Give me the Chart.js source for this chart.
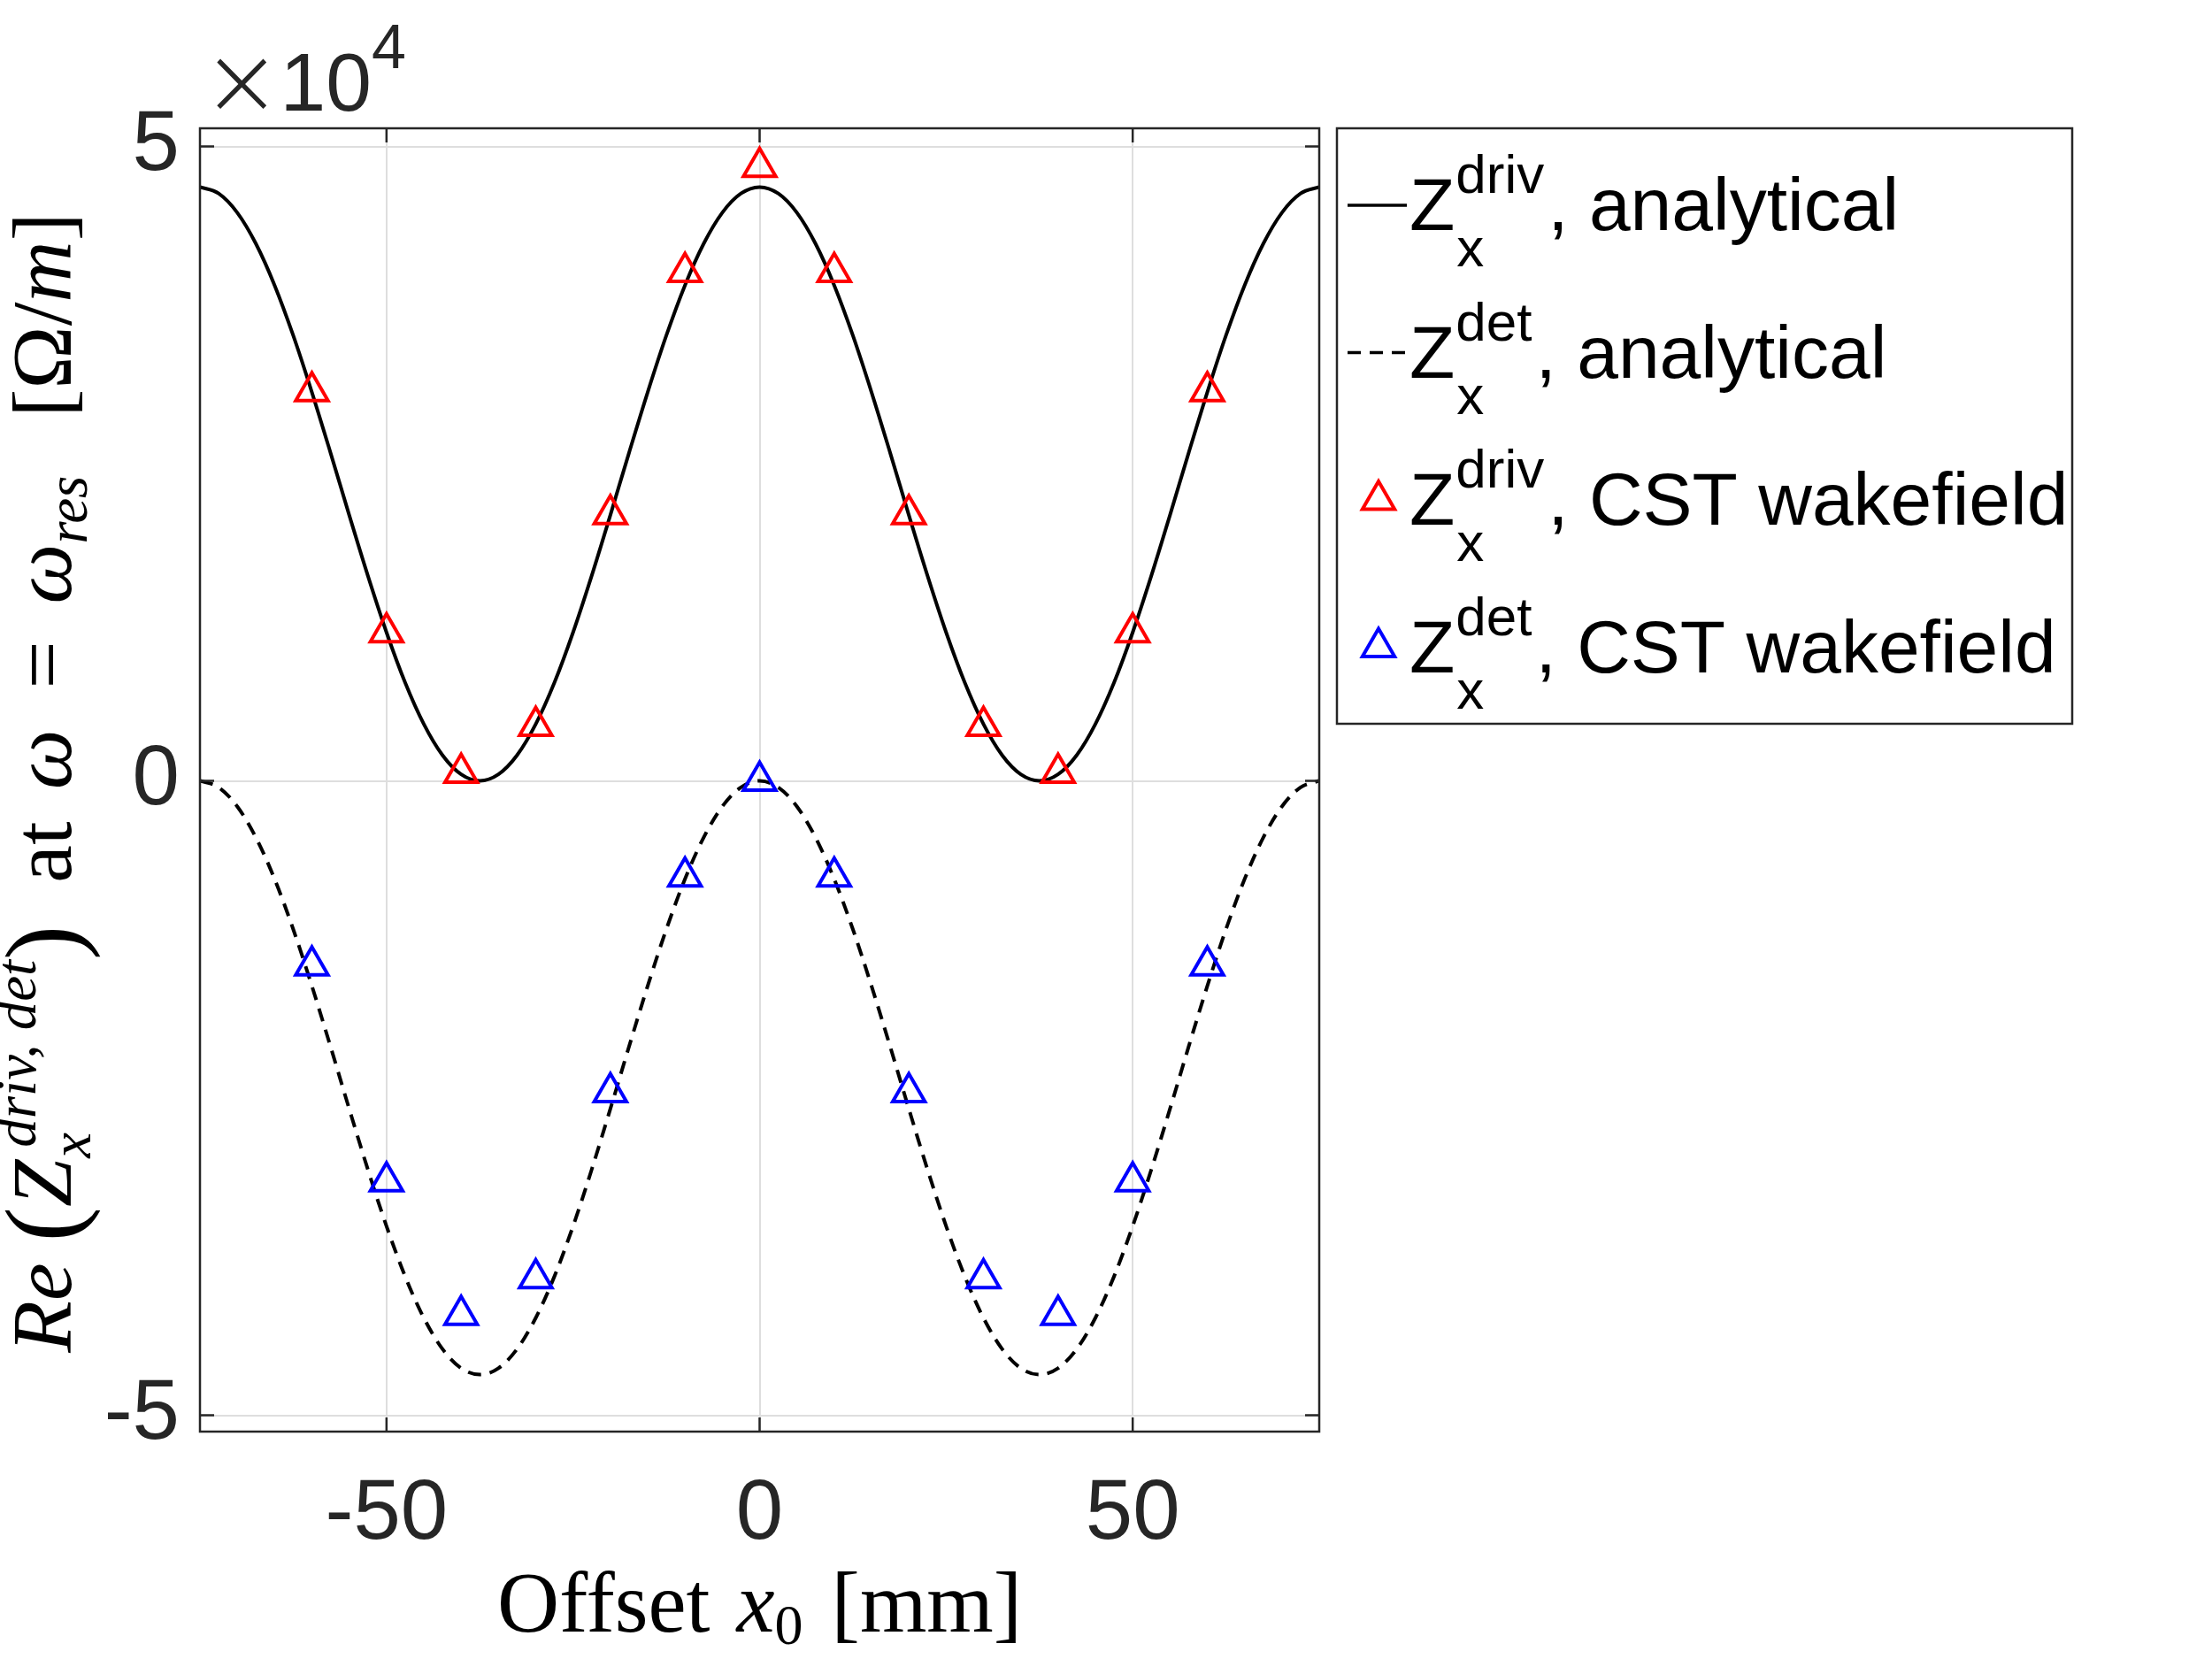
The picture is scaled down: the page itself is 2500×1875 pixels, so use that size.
<!DOCTYPE html>
<html>
<head>
<meta charset="utf-8">
<script src="https://cdn.jsdelivr.net/npm/chart.js@4.4.1/dist/chart.umd.min.js"></script>
<style>
html,body{margin:0;padding:0;background:#ffffff;}
canvas{display:block;}
</style>
</head>
<body>
<canvas id="c" width="2500" height="1875" style="width:2500px;height:1875px"></canvas>
<script>
// ---------------- data ----------------
const curveX = [-75, -72.5, -70, -67.5, -65, -62.5, -60, -57.5, -55, -52.5, -50, -47.5, -45, -42.5, -40, -37.5,
  -35, -32.5, -30, -27.5, -25, -22.5, -20, -17.5, -15, -12.5, -10, -7.5, -5, -2.5, 0,
  2.5, 5, 7.5, 10, 12.5, 15, 17.5, 20, 22.5, 25, 27.5, 30, 32.5, 35, 37.5,
  40, 42.5, 45, 47.5, 50, 52.5, 55, 57.5, 60, 62.5, 65, 67.5, 70, 72.5, 75];

const zDrivAnalytical = [46800, 46290, 44780, 42330, 39060, 35100, 30630, 25850, 20950, 16170, 11700, 7740, 4470, 2020, 510, 0,
  510, 2020, 4470, 7740, 11700, 16170, 20950, 25850, 30630, 35100, 39060, 42330, 44780, 46290, 46800,
  46290, 44780, 42330, 39060, 35100, 30630, 25850, 20950, 16170, 11700, 7740, 4470, 2020, 510, 0,
  510, 2020, 4470, 7740, 11700, 16170, 20950, 25850, 30630, 35100, 39060, 42330, 44780, 46290, 46800];

const zDetAnalytical = [0, -510, -2020, -4470, -7740, -11700, -16170, -20950, -25850, -30630, -35100, -39060, -42330, -44780, -46290, -46800,
  -46290, -44780, -42330, -39060, -35100, -30630, -25850, -20950, -16170, -11700, -7740, -4470, -2020, -510, 0,
  -510, -2020, -4470, -7740, -11700, -16170, -20950, -25850, -30630, -35100, -39060, -42330, -44780, -46290, -46800,
  -46290, -44780, -42330, -39060, -35100, -30630, -25850, -20950, -16170, -11700, -7740, -4470, -2020, -510, 0];

const cstX = [-60, -50, -40, -30, -20, -10, 0, 10, 20, 30, 40, 50, 60];
const zDrivCST = [30700, 11700, 620, 4330, 21000, 40100, 48380, 40100, 21000, 4330, 620, 11700, 30700];
const zDetCST = [-14550, -31570, -42100, -39200, -24550, -7550, 0, -7550, -24550, -39200, -42100, -31570, -14550];

const xTicks = [-50, 0, 50];
const yTicks = [-50000, 0, 50000];
const yExponent = 4;
const xLimits = [-75, 75];
const yLimits = [-51290, 51430];

// ---------------- styling ----------------
const SANS = '"Liberation Sans", Arial, Helvetica, sans-serif';
const SERIF = '"Liberation Serif", "Times New Roman", serif';
const AXIS = '#262626';
const GRID = '#dedede';

function pts(xs, ys) { return xs.map((x, i) => ({x: x, y: ys[i]})); }

// rich text helper: segments drawn left to right on a baseline
function rich(ctx, segs, x, y, draw) {
  let cx = x;
  for (const s of segs) {
    if (s.gap !== undefined) { cx += s.gap; continue; }
    ctx.font = s.f;
    if (s.sup !== undefined) {
      const w1 = ctx.measureText(s.sup).width + (s.supDx || 0);
      const w2 = ctx.measureText(s.sub).width + (s.subDx || 0);
      if (draw) {
        ctx.fillText(s.sup, cx + (s.supDx || 0), y + s.supDy);
        ctx.fillText(s.sub, cx + (s.subDx || 0), y + s.subDy);
      }
      cx += Math.max(w1, w2);
      continue;
    }
    if (draw) ctx.fillText(s.t, cx, y + (s.dy || 0));
    cx += ctx.measureText(s.t).width;
  }
  return cx - x;
}

const legendItems = [
  {kind: 'line', dash: [], color: '#000000', sup: 'driv', rest: ', analytical'},
  {kind: 'line', dash: [15, 10], color: '#000000', sup: 'det', rest: ', analytical'},
  {kind: 'marker', color: '#ff0000', sup: 'driv', rest: ', CST wakefield'},
  {kind: 'marker', color: '#0000ff', sup: 'det', rest: ', CST wakefield'}
];

const decor = {
  id: 'decor',
  beforeDraw(chart) {
    const ctx = chart.ctx;
    ctx.save();
    ctx.fillStyle = '#ffffff';
    ctx.fillRect(0, 0, chart.width, chart.height);
    ctx.restore();
  },
  afterDraw(chart) {
    const ctx = chart.ctx;
    const a = chart.chartArea;
    const xs = chart.scales.x, ys = chart.scales.y;
    ctx.save();
    // axes box
    ctx.strokeStyle = AXIS;
    ctx.lineWidth = 2.5;
    ctx.setLineDash([]);
    ctx.strokeRect(a.left, a.top, a.right - a.left, a.bottom - a.top);
    // inward tick marks
    const tl = 16;
    ctx.beginPath();
    for (const v of xTicks) {
      const px = xs.getPixelForValue(v);
      ctx.moveTo(px, a.bottom); ctx.lineTo(px, a.bottom - tl);
      ctx.moveTo(px, a.top); ctx.lineTo(px, a.top + tl);
    }
    for (const v of yTicks) {
      const py = ys.getPixelForValue(v);
      ctx.moveTo(a.left, py); ctx.lineTo(a.left + tl, py);
      ctx.moveTo(a.right, py); ctx.lineTo(a.right - tl, py);
    }
    ctx.stroke();

    // exponent label  x10^4
    ctx.fillStyle = AXIS;
    ctx.textBaseline = 'alphabetic';
    ctx.textAlign = 'left';
    rich(ctx, [
      {t: '\u00d7', f: '200 108px "DejaVu Sans", ' + SANS, dy: 4},
      {gap: -2},
      {t: '10', f: '93px ' + SANS},
      {t: String(yExponent), f: '70px ' + SANS, dy: -48}
    ], a.left + 2, a.top - 20, true);

    // x-axis title
    ctx.fillStyle = '#000000';
    const U = '97px ' + SERIF, I = 'italic 97px ' + SERIF, Sr = '64px ' + SERIF;
    const xt = [
      {t: 'Offset', f: U}, {gap: 30}, {t: 'x', f: I}, {t: '0', f: Sr, dy: 14}, {gap: 32}, {t: '[mm]', f: U}
    ];
    const xw = rich(ctx, xt, 0, 0, false);
    rich(ctx, xt, (a.left + a.right) / 2 - xw / 2, 1844, true);

    // y-axis title (rotated)
    const YI = 'italic 96px ' + SERIF, YU = '96px ' + SERIF, YS = 'italic 65px ' + SERIF, YP = '118px ' + SERIF;
    const yt = [
      {t: 'Re', f: YI}, {gap: 24}, {t: '(', f: YP, dy: 8}, {t: 'Z', f: YI},
      {sup: 'driv, det', sub: 'x', f: YS, supDy: -40, subDy: 22, supDx: 14, subDx: 2},
      {t: ')', f: YP, dy: 8}, {gap: 48}, {t: 'at', f: YU}, {gap: 36}, {t: '\u03c9', f: YI},
      {gap: 46}, {t: '=', f: YU}, {gap: 42}, {t: '\u03c9', f: YI}, {t: 'res', f: YS, dy: 18},
      {gap: 66}, {t: '[', f: YU}, {t: '\u03a9/', f: YU}, {t: 'm', f: YI}, {t: ']', f: YU}
    ];
    const yw = rich(ctx, yt, 0, 0, false);
    ctx.save();
    ctx.translate(80, (a.top + a.bottom) / 2 + 3);
    ctx.rotate(-Math.PI / 2);
    rich(ctx, yt, -yw / 2, 0, true);
    ctx.restore();

    // legend
    const L = {left: 1511, top: 145, right: 2342, bottom: 818};
    ctx.fillStyle = '#ffffff';
    ctx.fillRect(L.left, L.top, L.right - L.left, L.bottom - L.top);
    ctx.strokeStyle = AXIS;
    ctx.lineWidth = 2.5;
    ctx.strokeRect(L.left, L.top, L.right - L.left, L.bottom - L.top);
    const LF = '84px ' + SANS, LS = '62px ' + SANS;
    legendItems.forEach((it, i) => {
      const base = 260 + i * 166.5;
      const my = base - 28;
      if (it.kind === 'line') {
        ctx.save();
        ctx.strokeStyle = it.color;
        ctx.lineWidth = 3.5;
        ctx.setLineDash(it.dash);
        ctx.beginPath();
        ctx.moveTo(1523, my); ctx.lineTo(1590, my);
        ctx.stroke();
        ctx.restore();
      } else {
        ctx.save();
        ctx.strokeStyle = it.color;
        ctx.fillStyle = 'rgba(0,0,0,0)';
        ctx.lineWidth = 4;
        Chart.helpers.drawPoint(ctx, {pointStyle: 'triangle', radius: 21, borderWidth: 4, rotation: 0}, 1558, my);
        ctx.restore();
      }
      ctx.fillStyle = '#000000';
      rich(ctx, [
        {t: 'Z', f: LF},
        {sup: it.sup, sub: 'x', f: LS, supDy: -42, subDy: 41, supDx: 1, subDx: 2},
        {gap: 4},
        {t: it.rest, f: LF}
      ], 1593, base, true);
    });
    ctx.restore();
  }
};

function build() {
  const ctx = document.getElementById('c').getContext('2d');
  new Chart(ctx, {
    type: 'line',
    data: {
      datasets: [
        {label: 'Z_x^driv, analytical', data: pts(curveX, zDrivAnalytical), borderColor: '#000000', borderWidth: 4,
         pointRadius: 0, cubicInterpolationMode: 'monotone', fill: false, order: 2},
        {label: 'Z_x^det, analytical', data: pts(curveX, zDetAnalytical), borderColor: '#000000', borderWidth: 4,
         borderDash: [15, 10], pointRadius: 0, cubicInterpolationMode: 'monotone', fill: false, order: 2},
        {label: 'Z_x^driv, CST wakefield', data: pts(cstX, zDrivCST), showLine: false, pointStyle: 'triangle',
         pointRadius: 21, pointBorderWidth: 4, pointBorderColor: '#ff0000', pointBackgroundColor: 'rgba(0,0,0,0)',
         borderColor: '#ff0000', order: 1},
        {label: 'Z_x^det, CST wakefield', data: pts(cstX, zDetCST), showLine: false, pointStyle: 'triangle',
         pointRadius: 21, pointBorderWidth: 4, pointBorderColor: '#0000ff', pointBackgroundColor: 'rgba(0,0,0,0)',
         borderColor: '#0000ff', order: 1}
      ]
    },
    options: {
      responsive: false,
      devicePixelRatio: 1,
      animation: false,
      events: [],
      layout: {padding: {left: 0, top: 145, right: 1009, bottom: 0}},
      plugins: {legend: {display: false}, tooltip: {enabled: false}, title: {display: false}},
      scales: {
        x: {
          type: 'linear', min: xLimits[0], max: xLimits[1],
          afterBuildTicks: (s) => { s.ticks = xTicks.map(v => ({value: v})); },
          afterFit: (s) => { s.height = 257; },
          grid: {color: GRID, lineWidth: 2, drawTicks: false},
          border: {display: false},
          ticks: {color: AXIS, font: {family: SANS, size: 96, lineHeight: 1}, padding: 47,
                  maxRotation: 0, minRotation: 0, autoSkip: false, callback: (v) => String(v)}
        },
        y: {
          type: 'linear', min: yLimits[0], max: yLimits[1],
          afterBuildTicks: (s) => { s.ticks = yTicks.map(v => ({value: v})); },
          afterFit: (s) => { s.width = 226; },
          grid: {color: GRID, lineWidth: 2, drawTicks: false},
          border: {display: false},
          ticks: {color: AXIS, font: {family: SANS, size: 96, lineHeight: 1}, padding: 23,
                  autoSkip: false, callback: (v) => String(v / Math.pow(10, yExponent))}
        }
      }
    },
    plugins: [decor]
  });
}

const fontLoads = [
  '96px "Liberation Sans"', 'italic 96px "Liberation Serif"', '96px "Liberation Serif"', '200 108px "DejaVu Sans"'
].map(f => document.fonts.load(f).catch(() => null));
Promise.all(fontLoads).then(build, build);
</script>
</body>
</html>
